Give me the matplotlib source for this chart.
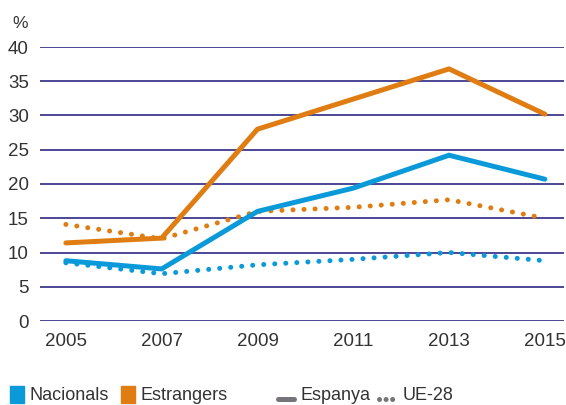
import matplotlib
matplotlib.use("Agg")
import matplotlib.pyplot as plt
from matplotlib.lines import Line2D
from matplotlib.patches import Rectangle

years = [2005, 2007, 2009, 2011, 2013, 2015]
nac_esp = [8.8, 7.6, 16.0, 19.4, 24.2, 20.7]
est_esp = [11.4, 12.1, 28.0, 32.4, 36.8, 30.2]
nac_ue = [8.5, 6.9, 8.2, 9.0, 10.0, 8.8]
est_ue = [14.1, 12.0, 16.0, 16.6, 17.7, 15.0]
yticks = [0, 5, 10, 15, 20, 25, 30, 35, 40]

BLUE = "#0a9ad9"
ORANGE = "#e07d12"
GRID = "#4b4694"
TEXT = "#333333"
GRAYL = "#77737a"

plt.rcParams['font.family'] = ['Liberation Sans', 'DejaVu Sans']

fig = plt.figure(figsize=(5.66, 4.05), dpi=100)
ax = fig.add_axes([40/566, (405-321)/405, (564-40)/566, (321-47)/405])
ax.set_xlim(2004.46, 2015.40)
ax.set_ylim(0, 40)
for y in yticks:
    ax.axhline(y, color=GRID, lw=1.4, zorder=1)
for s in ax.spines.values():
    s.set_visible(False)
ax.set_yticks(yticks)
ax.set_xticks(years)
ax.tick_params(length=0, labelsize=13.5, colors=TEXT)
ax.tick_params(axis='y', pad=8)
ax.tick_params(axis='x', pad=9)

dot = (0, (0.01, 2.2))
lw = 3.6
ax.plot(years, est_ue, color=ORANGE, lw=lw, ls=dot, dash_capstyle='round', zorder=2)
ax.plot(years, nac_ue, color=BLUE, lw=lw, ls=dot, dash_capstyle='round', zorder=2)
ax.plot(years, est_esp, color=ORANGE, lw=lw, solid_capstyle='round', solid_joinstyle='miter', zorder=3)
ax.plot(years, nac_esp, color=BLUE, lw=lw, solid_capstyle='round', solid_joinstyle='miter', zorder=3)

fig.text(20/566, 1-23/405, "%", fontsize=12.5, color=TEXT, ha='center', va='center')

# legend
ly = 1 - 395/405
fig.patches.append(Rectangle((10/566, 1-403/405), 14/566, 17/405, transform=fig.transFigure, color=BLUE))
fig.text(29/566, ly, "Nacionals", fontsize=13, color=TEXT, va='center')
fig.patches.append(Rectangle((121/566, 1-403/405), 14/566, 17/405, transform=fig.transFigure, color=ORANGE))
fig.text(140/566, ly, "Estrangers", fontsize=13, color=TEXT, va='center')
fig.lines.append(Line2D([278/566, 294/566], [1-399/405]*2, transform=fig.transFigure, color=GRAYL, lw=3.6, solid_capstyle='round'))
fig.text(301/566, ly, "Espanya", fontsize=13, color=TEXT, va='center')
fig.lines.append(Line2D([379/566, 395/566], [1-399/405]*2, transform=fig.transFigure, color=GRAYL, lw=3.6, ls=(0, (0.01, 1.3)), dash_capstyle='round'))
fig.text(403/566, ly, "UE-28", fontsize=13, color=TEXT, va='center')

fig.savefig("out.png", dpi=100)
